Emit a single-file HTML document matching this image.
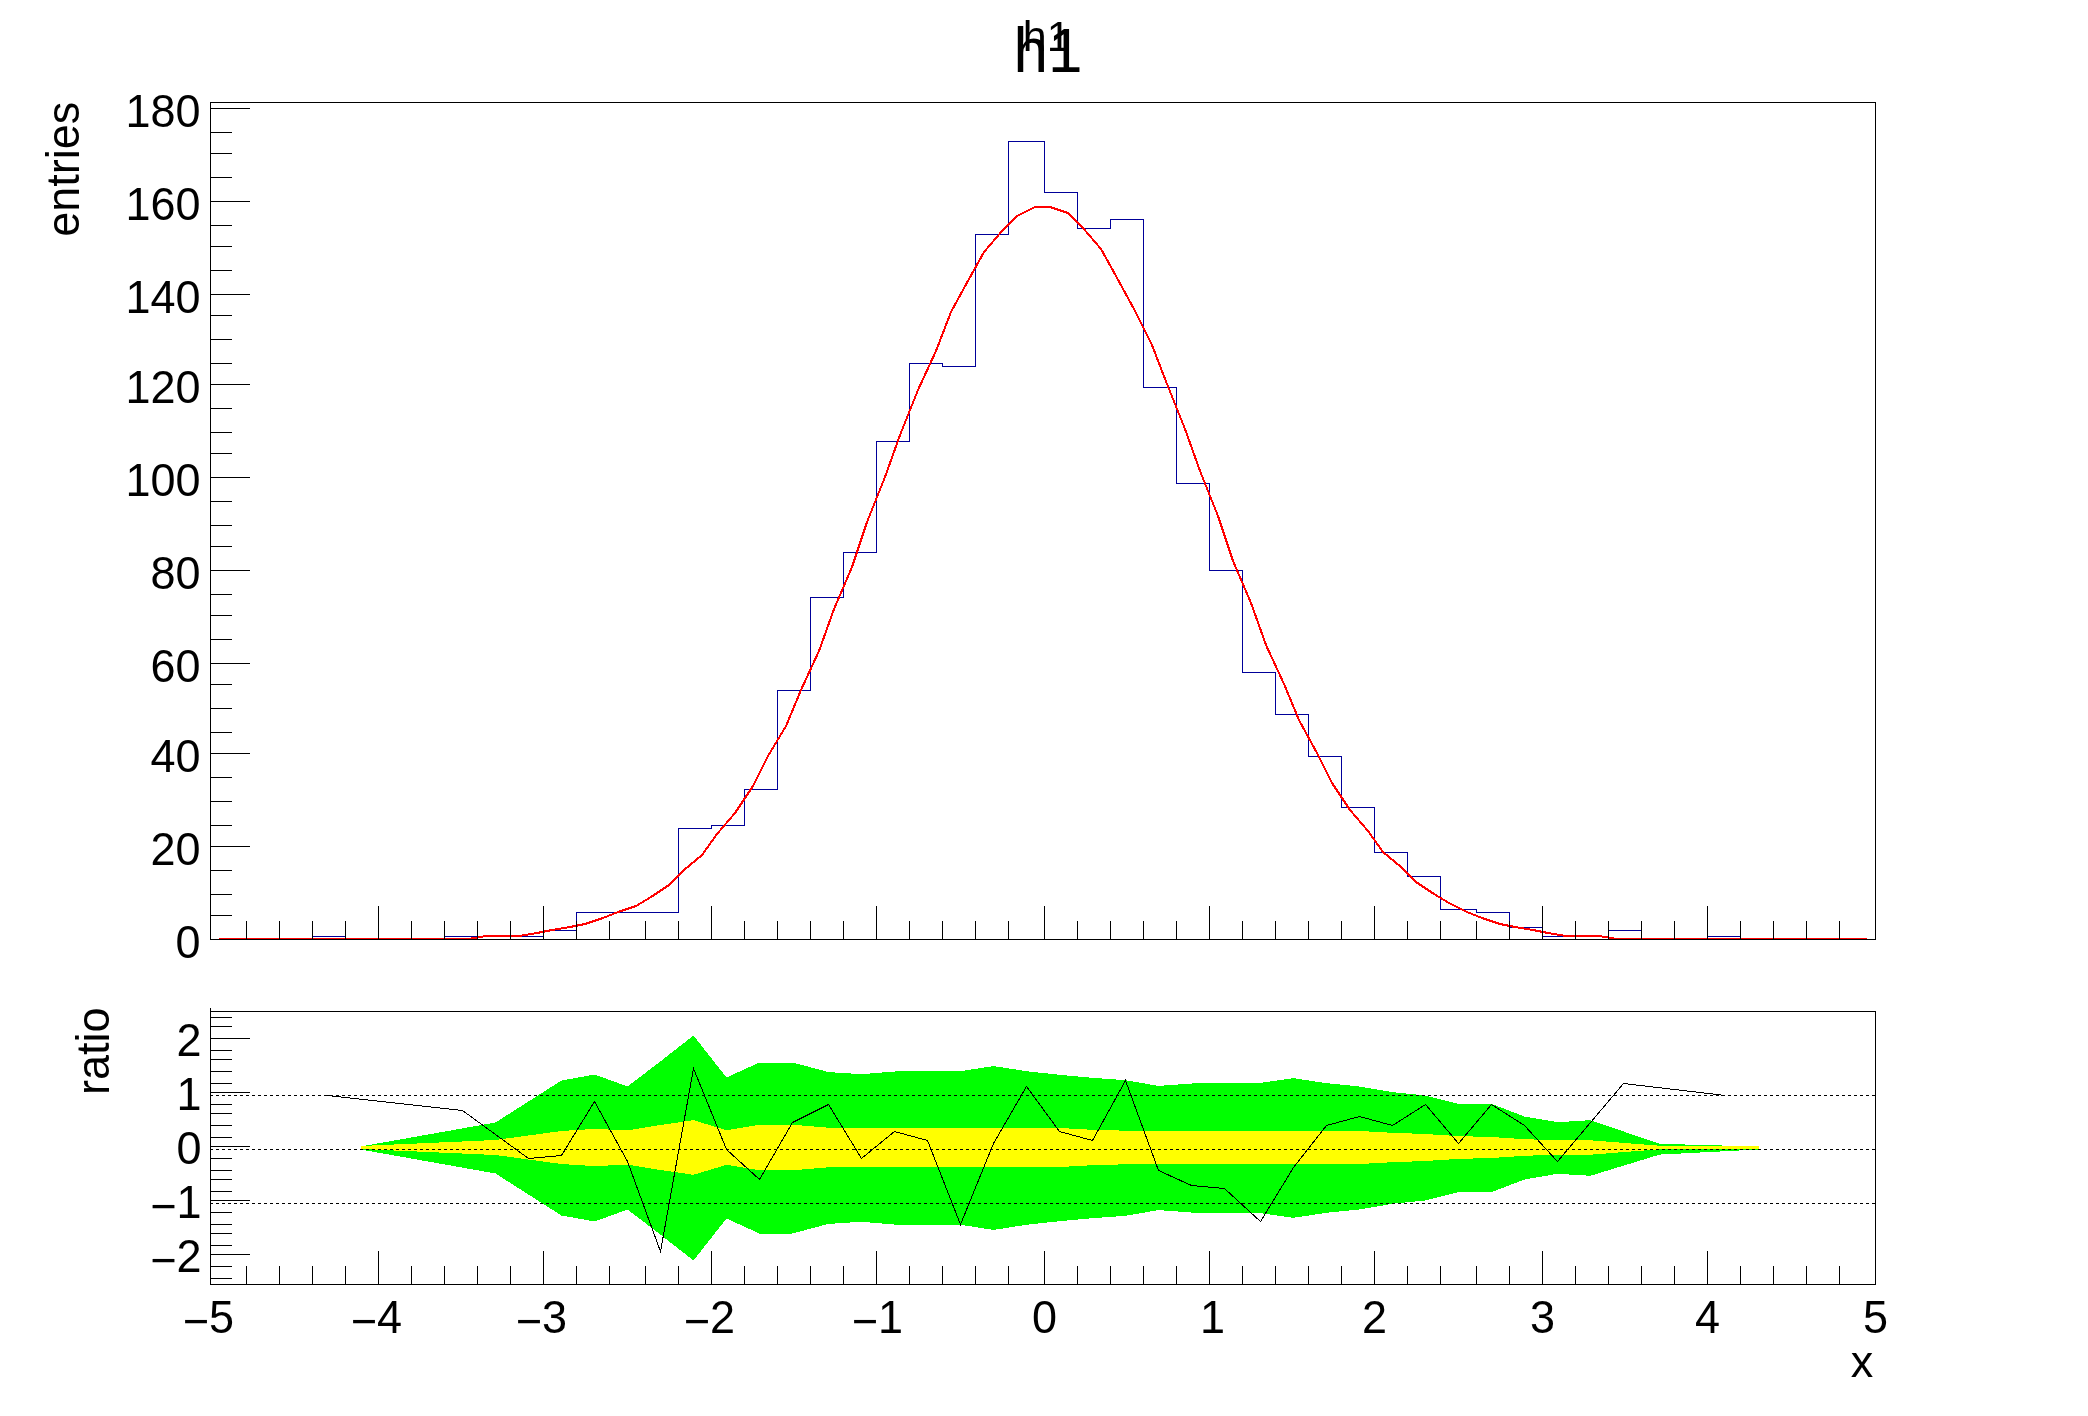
<!DOCTYPE html>
<html><head><meta charset="utf-8"><title>h1</title>
<style>
html,body{margin:0;padding:0;background:#fff;}
body{width:2088px;height:1416px;overflow:hidden;}
svg{display:block;font-family:"Liberation Sans",sans-serif;will-change:transform;}
svg text{fill:#000;}
</style></head><body>
<svg width="2088" height="1416" viewBox="0 0 2088 1416">
<polygon points="360.5,1146.5 495.5,1122.5 561.5,1080.5 594.5,1074.5 627.5,1086.5 660.5,1061.3 693.5,1035.5 726.5,1077.5 759.5,1062.5 792.5,1062.5 828.5,1072.1 861.5,1074.2 894.5,1071.5 927.5,1071.2 960.5,1071.2 993.5,1066.1 1026.5,1071.2 1059.5,1074.8 1092.5,1077.8 1125.5,1080.2 1158.5,1085.9 1191.5,1083.5 1224.5,1083.2 1260.5,1082.8 1293.5,1078.2 1326.5,1083.2 1359.5,1086.5 1392.5,1092.2 1425.5,1095.5 1458.5,1103.9 1491.5,1103.9 1524.5,1116.5 1557.5,1122.2 1590.5,1120.2 1659.5,1143.8 1758.5,1146.5 1758.5,1149.5 1659.5,1154.6 1590.5,1175.8 1557.5,1173.8 1524.5,1179.5 1491.5,1192.1 1458.5,1192.1 1425.5,1200.5 1392.5,1203.8 1359.5,1209.5 1326.5,1212.8 1293.5,1217.8 1260.5,1213.2 1224.5,1212.8 1191.5,1212.5 1158.5,1210.1 1125.5,1215.8 1092.5,1218.2 1059.5,1221.2 1026.5,1224.8 993.5,1229.9 960.5,1224.8 927.5,1224.8 894.5,1224.5 861.5,1221.8 828.5,1223.9 792.5,1233.5 759.5,1233.5 726.5,1218.5 693.5,1260.5 660.5,1234.7 627.5,1209.5 594.5,1221.5 561.5,1215.5 495.5,1173.5 360.5,1149.5" fill="#00ff00" shape-rendering="crispEdges"/>
<polygon points="360.5,1146.0 495.5,1140.0 561.5,1131.0 594.5,1128.9 627.5,1130.4 660.5,1125.0 693.5,1120.2 726.5,1130.2 759.5,1124.7 792.5,1124.7 828.5,1127.7 861.5,1128.0 894.5,1128.0 927.5,1128.0 960.5,1128.0 993.5,1127.7 1026.5,1128.0 1059.5,1128.0 1092.5,1129.8 1125.5,1130.7 1158.5,1131.0 1191.5,1131.0 1224.5,1131.0 1260.5,1131.0 1293.5,1131.0 1326.5,1131.0 1359.5,1131.0 1392.5,1132.8 1425.5,1134.0 1458.5,1136.1 1491.5,1137.0 1524.5,1139.2 1557.5,1140.3 1590.5,1140.3 1659.5,1145.7 1758.5,1145.7 1758.5,1149.3 1659.5,1149.3 1590.5,1154.7 1557.5,1154.7 1524.5,1155.8 1491.5,1158.0 1458.5,1158.9 1425.5,1161.0 1392.5,1162.2 1359.5,1164.0 1326.5,1164.0 1293.5,1164.0 1260.5,1164.0 1224.5,1164.0 1191.5,1164.0 1158.5,1164.0 1125.5,1164.3 1092.5,1165.2 1059.5,1167.0 1026.5,1167.0 993.5,1167.3 960.5,1167.0 927.5,1167.0 894.5,1167.0 861.5,1167.0 828.5,1167.3 792.5,1170.3 759.5,1170.3 726.5,1164.8 693.5,1174.8 660.5,1170.0 627.5,1164.6 594.5,1166.1 561.5,1164.0 495.5,1155.0 360.5,1149.0" fill="#ffff00" shape-rendering="crispEdges"/>
<line x1="210" y1="1095.5" x2="1875" y2="1095.5" stroke="#000" stroke-width="1" stroke-dasharray="3,3"/>
<line x1="210" y1="1149.5" x2="1875" y2="1149.5" stroke="#000" stroke-width="1" stroke-dasharray="3,3"/>
<line x1="210" y1="1203.5" x2="1875" y2="1203.5" stroke="#000" stroke-width="1" stroke-dasharray="3,3"/>
<polyline fill="none" stroke="#000" stroke-width="1" shape-rendering="crispEdges" points="327.5,1095.5 462.5,1110.5 528.5,1158.5 561.5,1155.5 594.5,1101.5 627.5,1161.5 660.5,1251.5 693.5,1068.5 726.5,1149.5 759.5,1179.5 792.5,1122.5 828.5,1104.5 861.5,1158.5 894.5,1131.5 927.5,1140.5 960.5,1224.5 993.5,1143.5 1026.5,1086.5 1059.5,1131.5 1092.5,1140.5 1125.5,1080.5 1158.5,1170.5 1191.5,1185.5 1224.5,1188.5 1260.5,1221.5 1293.5,1167.5 1326.5,1125.5 1359.5,1116.5 1392.5,1125.5 1425.5,1104.5 1458.5,1143.5 1491.5,1104.5 1524.5,1125.5 1557.5,1161.5 1623.5,1083.5 1725.5,1095.5"/>
<polyline fill="none" stroke="#000099" stroke-width="1" shape-rendering="crispEdges" points="210.5,939.5 210.5,939.5 246.5,939.5 246.5,939.5 279.5,939.5 279.5,939.5 312.5,939.5 312.5,936.5 345.5,936.5 345.5,939.5 378.5,939.5 378.5,939.5 411.5,939.5 411.5,939.5 444.5,939.5 444.5,936.5 477.5,936.5 477.5,939.5 510.5,939.5 510.5,936.5 543.5,936.5 543.5,930.5 576.5,930.5 576.5,912.5 609.5,912.5 609.5,912.5 645.5,912.5 645.5,912.5 678.5,912.5 678.5,828.5 711.5,828.5 711.5,825.5 744.5,825.5 744.5,789.5 777.5,789.5 777.5,690.5 810.5,690.5 810.5,597.5 843.5,597.5 843.5,552.5 876.5,552.5 876.5,441.5 909.5,441.5 909.5,363.5 942.5,363.5 942.5,366.5 975.5,366.5 975.5,234.5 1008.5,234.5 1008.5,141.5 1044.5,141.5 1044.5,192.5 1077.5,192.5 1077.5,228.5 1110.5,228.5 1110.5,219.5 1143.5,219.5 1143.5,387.5 1176.5,387.5 1176.5,483.5 1209.5,483.5 1209.5,570.5 1242.5,570.5 1242.5,672.5 1275.5,672.5 1275.5,714.5 1308.5,714.5 1308.5,756.5 1341.5,756.5 1341.5,807.5 1374.5,807.5 1374.5,852.5 1407.5,852.5 1407.5,876.5 1440.5,876.5 1440.5,909.5 1476.5,909.5 1476.5,912.5 1509.5,912.5 1509.5,927.5 1542.5,927.5 1542.5,936.5 1575.5,936.5 1575.5,939.5 1608.5,939.5 1608.5,930.5 1641.5,930.5 1641.5,939.5 1674.5,939.5 1674.5,939.5 1707.5,939.5 1707.5,936.5 1740.5,936.5 1740.5,939.5 1773.5,939.5 1773.5,939.5 1806.5,939.5 1806.5,939.5 1839.5,939.5 1839.5,939.5 1875.5,939.5 1875.5,939.5"/>
<polyline fill="none" stroke="#ff0000" stroke-width="2" stroke-linejoin="round" shape-rendering="crispEdges" points="219,939 237,939 252,939 270,939 285,939 303,939 321,939 336,939 354,939 369,939 387,939 402,939 420,939 435,939 453,939 468,939 486,936 501,936 519,936 537,933 552,930 570,927 585,924 603,918 618,912 636,906 651,897 669,885 684,870 702,855 717,834 735,813 753,786 768,756 786,726 801,690 819,651 834,609 852,567 867,522 885,477 900,435 918,390 936,351 951,312 969,279 984,252 1002,231 1017,216 1035,207 1050,207 1068,213 1083,228 1101,249 1116,276 1134,309 1152,345 1167,384 1185,429 1200,471 1218,516 1233,561 1251,603 1266,645 1284,684 1299,720 1317,753 1332,783 1350,810 1368,831 1383,852 1401,867 1416,882 1434,894 1449,903 1467,912 1482,918 1500,924 1515,927 1533,930 1548,933 1566,936 1584,936 1599,936 1617,939 1632,939 1650,939 1665,939 1683,939 1698,939 1716,939 1731,939 1749,939 1767,939 1782,939 1800,939 1815,939 1833,939 1848,939 1867,939"/>
<rect x="210" y="102" width="1666" height="1" fill="#000"/>
<rect x="210" y="939" width="1666" height="1" fill="#000"/>
<rect x="210" y="102" width="1" height="838" fill="#000"/>
<rect x="1875" y="102" width="1" height="838" fill="#000"/>
<rect x="210" y="1011" width="1666" height="1" fill="#000"/>
<rect x="210" y="1284" width="1666" height="1" fill="#000"/>
<rect x="210" y="1011" width="1" height="274" fill="#000"/>
<rect x="1875" y="1011" width="1" height="274" fill="#000"/>
<rect x="210" y="1008" width="1" height="277" fill="#000"/>
<rect x="246" y="921" width="1" height="19" fill="#000"/>
<rect x="246" y="1266" width="1" height="19" fill="#000"/>
<rect x="279" y="921" width="1" height="19" fill="#000"/>
<rect x="279" y="1266" width="1" height="19" fill="#000"/>
<rect x="312" y="921" width="1" height="19" fill="#000"/>
<rect x="312" y="1266" width="1" height="19" fill="#000"/>
<rect x="345" y="921" width="1" height="19" fill="#000"/>
<rect x="345" y="1266" width="1" height="19" fill="#000"/>
<rect x="378" y="906" width="1" height="34" fill="#000"/>
<rect x="378" y="1251" width="1" height="34" fill="#000"/>
<rect x="411" y="921" width="1" height="19" fill="#000"/>
<rect x="411" y="1266" width="1" height="19" fill="#000"/>
<rect x="444" y="921" width="1" height="19" fill="#000"/>
<rect x="444" y="1266" width="1" height="19" fill="#000"/>
<rect x="477" y="921" width="1" height="19" fill="#000"/>
<rect x="477" y="1266" width="1" height="19" fill="#000"/>
<rect x="510" y="921" width="1" height="19" fill="#000"/>
<rect x="510" y="1266" width="1" height="19" fill="#000"/>
<rect x="543" y="906" width="1" height="34" fill="#000"/>
<rect x="543" y="1251" width="1" height="34" fill="#000"/>
<rect x="576" y="921" width="1" height="19" fill="#000"/>
<rect x="576" y="1266" width="1" height="19" fill="#000"/>
<rect x="609" y="921" width="1" height="19" fill="#000"/>
<rect x="609" y="1266" width="1" height="19" fill="#000"/>
<rect x="645" y="921" width="1" height="19" fill="#000"/>
<rect x="645" y="1266" width="1" height="19" fill="#000"/>
<rect x="678" y="921" width="1" height="19" fill="#000"/>
<rect x="678" y="1266" width="1" height="19" fill="#000"/>
<rect x="711" y="906" width="1" height="34" fill="#000"/>
<rect x="711" y="1251" width="1" height="34" fill="#000"/>
<rect x="744" y="921" width="1" height="19" fill="#000"/>
<rect x="744" y="1266" width="1" height="19" fill="#000"/>
<rect x="777" y="921" width="1" height="19" fill="#000"/>
<rect x="777" y="1266" width="1" height="19" fill="#000"/>
<rect x="810" y="921" width="1" height="19" fill="#000"/>
<rect x="810" y="1266" width="1" height="19" fill="#000"/>
<rect x="843" y="921" width="1" height="19" fill="#000"/>
<rect x="843" y="1266" width="1" height="19" fill="#000"/>
<rect x="876" y="906" width="1" height="34" fill="#000"/>
<rect x="876" y="1251" width="1" height="34" fill="#000"/>
<rect x="909" y="921" width="1" height="19" fill="#000"/>
<rect x="909" y="1266" width="1" height="19" fill="#000"/>
<rect x="942" y="921" width="1" height="19" fill="#000"/>
<rect x="942" y="1266" width="1" height="19" fill="#000"/>
<rect x="975" y="921" width="1" height="19" fill="#000"/>
<rect x="975" y="1266" width="1" height="19" fill="#000"/>
<rect x="1008" y="921" width="1" height="19" fill="#000"/>
<rect x="1008" y="1266" width="1" height="19" fill="#000"/>
<rect x="1044" y="906" width="1" height="34" fill="#000"/>
<rect x="1044" y="1251" width="1" height="34" fill="#000"/>
<rect x="1077" y="921" width="1" height="19" fill="#000"/>
<rect x="1077" y="1266" width="1" height="19" fill="#000"/>
<rect x="1110" y="921" width="1" height="19" fill="#000"/>
<rect x="1110" y="1266" width="1" height="19" fill="#000"/>
<rect x="1143" y="921" width="1" height="19" fill="#000"/>
<rect x="1143" y="1266" width="1" height="19" fill="#000"/>
<rect x="1176" y="921" width="1" height="19" fill="#000"/>
<rect x="1176" y="1266" width="1" height="19" fill="#000"/>
<rect x="1209" y="906" width="1" height="34" fill="#000"/>
<rect x="1209" y="1251" width="1" height="34" fill="#000"/>
<rect x="1242" y="921" width="1" height="19" fill="#000"/>
<rect x="1242" y="1266" width="1" height="19" fill="#000"/>
<rect x="1275" y="921" width="1" height="19" fill="#000"/>
<rect x="1275" y="1266" width="1" height="19" fill="#000"/>
<rect x="1308" y="921" width="1" height="19" fill="#000"/>
<rect x="1308" y="1266" width="1" height="19" fill="#000"/>
<rect x="1341" y="921" width="1" height="19" fill="#000"/>
<rect x="1341" y="1266" width="1" height="19" fill="#000"/>
<rect x="1374" y="906" width="1" height="34" fill="#000"/>
<rect x="1374" y="1251" width="1" height="34" fill="#000"/>
<rect x="1407" y="921" width="1" height="19" fill="#000"/>
<rect x="1407" y="1266" width="1" height="19" fill="#000"/>
<rect x="1440" y="921" width="1" height="19" fill="#000"/>
<rect x="1440" y="1266" width="1" height="19" fill="#000"/>
<rect x="1476" y="921" width="1" height="19" fill="#000"/>
<rect x="1476" y="1266" width="1" height="19" fill="#000"/>
<rect x="1509" y="921" width="1" height="19" fill="#000"/>
<rect x="1509" y="1266" width="1" height="19" fill="#000"/>
<rect x="1542" y="906" width="1" height="34" fill="#000"/>
<rect x="1542" y="1251" width="1" height="34" fill="#000"/>
<rect x="1575" y="921" width="1" height="19" fill="#000"/>
<rect x="1575" y="1266" width="1" height="19" fill="#000"/>
<rect x="1608" y="921" width="1" height="19" fill="#000"/>
<rect x="1608" y="1266" width="1" height="19" fill="#000"/>
<rect x="1641" y="921" width="1" height="19" fill="#000"/>
<rect x="1641" y="1266" width="1" height="19" fill="#000"/>
<rect x="1674" y="921" width="1" height="19" fill="#000"/>
<rect x="1674" y="1266" width="1" height="19" fill="#000"/>
<rect x="1707" y="906" width="1" height="34" fill="#000"/>
<rect x="1707" y="1251" width="1" height="34" fill="#000"/>
<rect x="1740" y="921" width="1" height="19" fill="#000"/>
<rect x="1740" y="1266" width="1" height="19" fill="#000"/>
<rect x="1773" y="921" width="1" height="19" fill="#000"/>
<rect x="1773" y="1266" width="1" height="19" fill="#000"/>
<rect x="1806" y="921" width="1" height="19" fill="#000"/>
<rect x="1806" y="1266" width="1" height="19" fill="#000"/>
<rect x="1839" y="921" width="1" height="19" fill="#000"/>
<rect x="1839" y="1266" width="1" height="19" fill="#000"/>
<rect x="210" y="939" width="40" height="1" fill="#000"/>
<rect x="210" y="915" width="22" height="1" fill="#000"/>
<rect x="210" y="894" width="22" height="1" fill="#000"/>
<rect x="210" y="870" width="22" height="1" fill="#000"/>
<rect x="210" y="846" width="40" height="1" fill="#000"/>
<rect x="210" y="825" width="22" height="1" fill="#000"/>
<rect x="210" y="801" width="22" height="1" fill="#000"/>
<rect x="210" y="777" width="22" height="1" fill="#000"/>
<rect x="210" y="753" width="40" height="1" fill="#000"/>
<rect x="210" y="732" width="22" height="1" fill="#000"/>
<rect x="210" y="708" width="22" height="1" fill="#000"/>
<rect x="210" y="684" width="22" height="1" fill="#000"/>
<rect x="210" y="663" width="40" height="1" fill="#000"/>
<rect x="210" y="639" width="22" height="1" fill="#000"/>
<rect x="210" y="615" width="22" height="1" fill="#000"/>
<rect x="210" y="594" width="22" height="1" fill="#000"/>
<rect x="210" y="570" width="40" height="1" fill="#000"/>
<rect x="210" y="546" width="22" height="1" fill="#000"/>
<rect x="210" y="525" width="22" height="1" fill="#000"/>
<rect x="210" y="501" width="22" height="1" fill="#000"/>
<rect x="210" y="477" width="40" height="1" fill="#000"/>
<rect x="210" y="453" width="22" height="1" fill="#000"/>
<rect x="210" y="432" width="22" height="1" fill="#000"/>
<rect x="210" y="408" width="22" height="1" fill="#000"/>
<rect x="210" y="384" width="40" height="1" fill="#000"/>
<rect x="210" y="363" width="22" height="1" fill="#000"/>
<rect x="210" y="339" width="22" height="1" fill="#000"/>
<rect x="210" y="315" width="22" height="1" fill="#000"/>
<rect x="210" y="294" width="40" height="1" fill="#000"/>
<rect x="210" y="270" width="22" height="1" fill="#000"/>
<rect x="210" y="246" width="22" height="1" fill="#000"/>
<rect x="210" y="225" width="22" height="1" fill="#000"/>
<rect x="210" y="201" width="40" height="1" fill="#000"/>
<rect x="210" y="177" width="22" height="1" fill="#000"/>
<rect x="210" y="153" width="22" height="1" fill="#000"/>
<rect x="210" y="132" width="22" height="1" fill="#000"/>
<rect x="210" y="108" width="40" height="1" fill="#000"/>
<rect x="210" y="1278" width="22" height="1" fill="#000"/>
<rect x="210" y="1266" width="22" height="1" fill="#000"/>
<rect x="210" y="1254" width="40" height="1" fill="#000"/>
<rect x="210" y="1245" width="22" height="1" fill="#000"/>
<rect x="210" y="1233" width="22" height="1" fill="#000"/>
<rect x="210" y="1224" width="22" height="1" fill="#000"/>
<rect x="210" y="1212" width="22" height="1" fill="#000"/>
<rect x="210" y="1200" width="40" height="1" fill="#000"/>
<rect x="210" y="1191" width="22" height="1" fill="#000"/>
<rect x="210" y="1179" width="22" height="1" fill="#000"/>
<rect x="210" y="1170" width="22" height="1" fill="#000"/>
<rect x="210" y="1158" width="22" height="1" fill="#000"/>
<rect x="210" y="1146" width="40" height="1" fill="#000"/>
<rect x="210" y="1137" width="22" height="1" fill="#000"/>
<rect x="210" y="1125" width="22" height="1" fill="#000"/>
<rect x="210" y="1113" width="22" height="1" fill="#000"/>
<rect x="210" y="1104" width="22" height="1" fill="#000"/>
<rect x="210" y="1092" width="40" height="1" fill="#000"/>
<rect x="210" y="1083" width="22" height="1" fill="#000"/>
<rect x="210" y="1071" width="22" height="1" fill="#000"/>
<rect x="210" y="1059" width="22" height="1" fill="#000"/>
<rect x="210" y="1050" width="22" height="1" fill="#000"/>
<rect x="210" y="1038" width="40" height="1" fill="#000"/>
<rect x="210" y="1026" width="22" height="1" fill="#000"/>
<rect x="210" y="1017" width="22" height="1" fill="#000"/>
<text transform="translate(200.5,957.5) scale(1,1.03)" font-size="45" text-anchor="end">0</text>
<text transform="translate(200.5,864.5) scale(1,1.03)" font-size="45" text-anchor="end">20</text>
<text transform="translate(200.5,771.5) scale(1,1.03)" font-size="45" text-anchor="end">40</text>
<text transform="translate(200.5,681.5) scale(1,1.03)" font-size="45" text-anchor="end">60</text>
<text transform="translate(200.5,588.5) scale(1,1.03)" font-size="45" text-anchor="end">80</text>
<text transform="translate(200.5,495.5) scale(1,1.03)" font-size="45" text-anchor="end">100</text>
<text transform="translate(200.5,402.5) scale(1,1.03)" font-size="45" text-anchor="end">120</text>
<text transform="translate(200.5,312.5) scale(1,1.03)" font-size="45" text-anchor="end">140</text>
<text transform="translate(200.5,219.5) scale(1,1.03)" font-size="45" text-anchor="end">160</text>
<text transform="translate(200.5,126.5) scale(1,1.03)" font-size="45" text-anchor="end">180</text>
<text transform="translate(201.5,1056) scale(1,1.03)" font-size="45" text-anchor="end">2</text>
<text transform="translate(201.5,1110) scale(1,1.03)" font-size="45" text-anchor="end">1</text>
<text transform="translate(201.5,1164) scale(1,1.03)" font-size="45" text-anchor="end">0</text>
<text transform="translate(201.5,1218) scale(1,1.03)" font-size="45" text-anchor="end"><tspan dy="3.6">−</tspan><tspan dy="-3.6">1</tspan></text>
<text transform="translate(201.5,1272) scale(1,1.03)" font-size="45" text-anchor="end"><tspan dy="3.6">−</tspan><tspan dy="-3.6">2</tspan></text>
<text transform="translate(208.5,1333) scale(1,1.03)" font-size="45" text-anchor="middle"><tspan dy="3.6">−</tspan><tspan dy="-3.6">5</tspan></text>
<text transform="translate(376.5,1333) scale(1,1.03)" font-size="45" text-anchor="middle"><tspan dy="3.6">−</tspan><tspan dy="-3.6">4</tspan></text>
<text transform="translate(541.5,1333) scale(1,1.03)" font-size="45" text-anchor="middle"><tspan dy="3.6">−</tspan><tspan dy="-3.6">3</tspan></text>
<text transform="translate(709.5,1333) scale(1,1.03)" font-size="45" text-anchor="middle"><tspan dy="3.6">−</tspan><tspan dy="-3.6">2</tspan></text>
<text transform="translate(877.5,1333) scale(1,1.03)" font-size="45" text-anchor="middle"><tspan dy="3.6">−</tspan><tspan dy="-3.6">1</tspan></text>
<text transform="translate(1044.5,1333) scale(1,1.03)" font-size="45" text-anchor="middle">0</text>
<text transform="translate(1212.5,1333) scale(1,1.03)" font-size="45" text-anchor="middle">1</text>
<text transform="translate(1374.5,1333) scale(1,1.03)" font-size="45" text-anchor="middle">2</text>
<text transform="translate(1542.5,1333) scale(1,1.03)" font-size="45" text-anchor="middle">3</text>
<text transform="translate(1707.5,1333) scale(1,1.03)" font-size="45" text-anchor="middle">4</text>
<text transform="translate(1875.5,1333) scale(1,1.03)" font-size="45" text-anchor="middle">5</text>
<text transform="translate(1862,1377) scale(1,1.0)" font-size="45" text-anchor="middle">x</text>
<text transform="translate(79,236.7) rotate(-90) scale(1,1.04)" font-size="45" text-anchor="start">entries</text>
<text transform="translate(109,1095) rotate(-90) scale(1,1.04)" font-size="45" text-anchor="start">ratio</text>
<text transform="translate(1048,72) scale(1,1.03)" font-size="62" text-anchor="middle">h1</text>
<text transform="translate(1046.7,50.5) scale(1,1.0)" font-size="43" text-anchor="middle">h1</text>
</svg>
</body></html>
